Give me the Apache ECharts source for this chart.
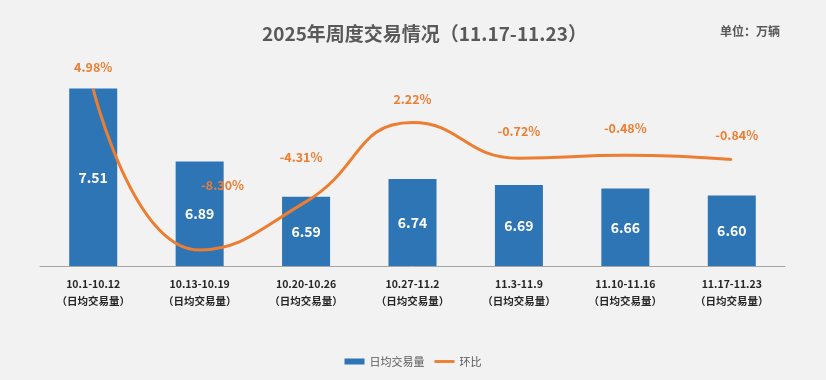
<!DOCTYPE html>
<html><head><meta charset="utf-8">
<script src="https://cdn.jsdelivr.net/npm/echarts@6/dist/echarts.min.js"></script>
<style>html,body{margin:0;padding:0;background:#f2f2f2;}#c{width:826px;height:380px;}</style>
</head><body><div id="c"></div>
<script>
const categories = ['10.1-10.12','10.13-10.19','10.20-10.26','10.27-11.2','11.3-11.9','11.10-11.16','11.17-11.23'];
const dailyVolume = [7.51, 6.89, 6.59, 6.74, 6.69, 6.66, 6.60];
const momChange = [4.98, -8.30, -4.31, 2.22, -0.72, -0.48, -0.84];
const lineLabelOffsets = [[0,-10],[23,-53],[-5,-33],[0,-12],[0,-15],[0,-15],[5,-13]];

const FONT = 'Noto Sans CJK SC';
const chart = echarts.init(document.getElementById('c'), null, {renderer:'canvas'});
chart.setOption({
  backgroundColor: '#f2f2f2',
  textStyle: {fontFamily: FONT},
  animation: false,
  title: [{
    text: '2025年周度交易情况（11.17-11.23）',
    left: 257, top: 19,
    textStyle: {fontSize: 19, fontWeight: 'bold', color: '#595959', fontFamily: FONT}
  },{
    text: '单位：万辆',
    left: 715, top: 20,
    textStyle: {fontSize: 12, fontWeight: 'bold', color: '#595959', fontFamily: FONT}
  }],
  legend: {
    bottom: 8,
    left: 'center',
    itemWidth: 20, itemHeight: 6, itemGap: 10,
    textStyle: {fontSize: 11, color: '#595959', fontFamily: FONT},
    data: [{name:'日均交易量', icon:'rect'}, {name:'环比', icon:'path://M0,0H21V3H0Z'}]
  },
  grid: {left: 40, right: 41, top: 31, bottom: 114},
  xAxis: {
    type: 'category',
    data: categories,
    axisLine: {onZero: false, lineStyle: {color: '#a6a6a6', width: 1}},
    axisTick: {show: false},
    axisLabel: {
      interval: 0, margin: 10,
      color: '#262626', fontSize: 10.5, fontWeight: 'bold', lineHeight: 17,
      formatter: v => v + '\n（日均交易量）'
    }
  },
  yAxis: [
    {type:'value', min: 6, max: 8, show: false, splitLine:{show:false}},
    {type:'value', min: -9.62, max: 9.77, show: false, splitLine:{show:false}}
  ],
  series: [{
    name: '日均交易量',
    type: 'bar',
    data: dailyVolume,
    barWidth: 48,
    itemStyle: {color: '#2e75b6'},
    label: {show: true, position: 'inside', color: '#fff', fontSize: 14, fontWeight: 'bold',
      formatter: p => p.value.toFixed(2)}
  },{
    name: '环比',
    type: 'line',
    yAxisIndex: 1,
    smooth: 0.5,
    symbol: 'circle',
    symbolSize: 1,
    showSymbol: true,
    data: momChange.map((v,i) => ({value: v, label: {offset: lineLabelOffsets[i]}})),
    lineStyle: {color: '#ed7d31', width: 3},
    itemStyle: {color: '#ed7d31'},
    z: 5,
    label: {show: true, position: 'top', color: '#ed7d31', fontSize: 12.5, fontWeight: 'bold',
      formatter: p => p.value.toFixed(2) + '%'}
  }]
});
</script></body></html>
